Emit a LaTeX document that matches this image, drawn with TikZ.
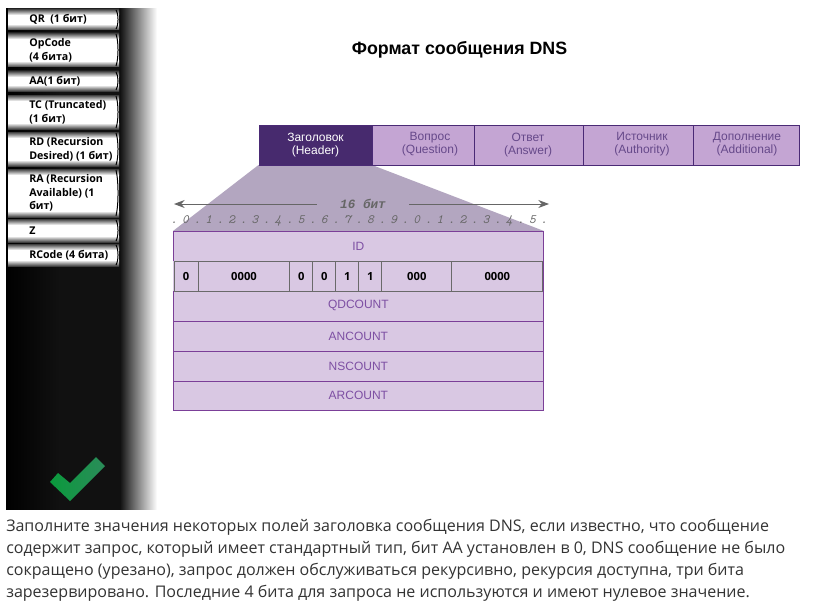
\documentclass[tikz,border=0pt]{standalone}
\usepackage{fontspec}
\setmainfont{Liberation Sans}
\newfontfamily\bodyfont{Open Sans}
\newfontfamily\monofont{Liberation Mono}
\usetikzlibrary{arrows.meta,calc}
\definecolor{tabdark}{HTML}{472A6E}
\definecolor{tablight}{HTML}{C4A5D3}
\definecolor{tabborder}{HTML}{4A2A75}
\definecolor{tabtext}{HTML}{66498A}
\definecolor{rowfill}{HTML}{D9C8E3}
\definecolor{rowborder}{HTML}{7B3F98}
\definecolor{rowtext}{HTML}{7D4FA3}
\definecolor{funnel}{HTML}{B3A6C0}
\definecolor{graytxt}{HTML}{666666}
\definecolor{cellborder}{HTML}{6A6A6A}
\definecolor{sideA}{HTML}{000000}
\definecolor{sideB}{HTML}{111111}
\definecolor{sideC}{HTML}{666666}
\definecolor{checkL}{HTML}{0A9A3C}
\definecolor{checkR}{HTML}{2B8C5A}
\pgfdeclarehorizontalshading{sidebarshade}{100bp}{color(0bp)=(sideA); color(25bp)=(sideA); color(43bp)=(sideB); color(62.75bp)=(sideB); color(67bp)=(sideC); color(75bp)=(white); color(100bp)=(white)}
\tikzset{
  x=0.75pt,y=-0.75pt,
  tabbox/.style={draw=tabborder,line width=0.75pt,fill=tablight,anchor=north west,inner sep=0pt,minimum height=30pt},
  tablabel/.style={text=tabtext,font=\fontsize{9}{9.75}\selectfont,align=center,inner sep=0pt},
  rowbox/.style={draw=rowborder,line width=0.6pt,fill=rowfill,text=rowtext,font=\fontsize{9}{11}\selectfont,anchor=north west,inner sep=0pt,minimum height=22.5pt,minimum width=277.5pt},
  cellbox/.style={draw=cellborder,line width=0.75pt,fill=rowfill,text=black,font=\bodyfont\bfseries\fontsize{8.4}{10}\selectfont,anchor=north west,inner sep=0pt,minimum height=22.5pt},
  btntext/.style={font=\bodyfont\bfseries\fontsize{8}{10.2}\selectfont,align=left,anchor=west,inner sep=0pt,text=black},
  dimline/.style={draw=graytxt,line width=0.75pt,-{Stealth[length=8pt,width=6pt]}},
  digit/.style={font=\ttfamily\itshape\fontsize{9.5}{10}\selectfont,text=graytxt,inner sep=0pt},
}
\newcommand{\btnshape}[3]{%
  \fill[white] (8,#2) rectangle (119,#3);
  \shade[top color=black!75,middle color=black!30,bottom color=white] (8,#2) rectangle (119,#2+6);
  \shade[top color=white,middle color=black!30,bottom color=black!75] (8,#3-6) rectangle (119,#3);
  \draw[black,line width=0.75pt] (116,#2+1) .. controls (118.7,#2*0.75+#3*0.25) and (118.7,#2*0.25+#3*0.75) .. (116,#3-1);
}
\begin{document}
\begin{tikzpicture}
\useasboundingbox (0,0) rectangle (831,610);
\fill[white] (0,0) rectangle (831,610);
% sidebar
\shade[shading=sidebarshade] (6,9) rectangle (157,509);
% buttons
\btnshape{qr}{9}{30}
\btnshape{op}{33}{67}
\btnshape{aa}{71}{91}
\btnshape{tc}{95}{129}
\btnshape{rd}{132}{166}
\btnshape{ra}{169}{217}
\btnshape{z}{219}{242}
\btnshape{rc}{244}{266}
\node[btntext] (bqr) at (29,19.5) {QR\ \ (1 бит)};
\node[btntext] (bop) at (29,50) {OpCode\\(4 бита)};
\node[btntext] (baa) at (29,81) {AA(1 бит)};
\node[btntext] (btc) at (29,112) {TC (Truncated)\\(1 бит)};
\node[btntext] (brd) at (29,149.5) {RD (Recursion\\Desired) (1 бит)};
\node[btntext] (bra) at (29,193) {RA (Recursion\\Available) (1\\бит)};
\node[btntext] (bz) at (29,230.5) {Z};
\node[btntext] (brc) at (29,255) {RCode (4 бита)};
% check mark
\shade[left color=checkL,right color=checkR]
  (50,482) -- (58,473) -- (70,483) -- (96,457) -- (105,466) -- (70,501) -- cycle;
% title
\node[font=\bfseries\fontsize{13.35}{15}\selectfont,inner sep=0pt] (title) at (459.5,50) {Формат сообщения DNS};
% funnel
\fill[funnel] (258.5,165) -- (372,165) -- (544,231) -- (173,231) -- cycle;
% tabs
\node[tabbox,fill=tabdark,minimum width=84.75pt] (t1) at (258.7,124.6) {};
\node[tabbox,minimum width=76.5pt] (t2) at (371.7,124.6) {};
\node[tabbox,minimum width=81.75pt] (t3) at (473.7,124.6) {};
\node[tabbox,minimum width=82.5pt] (t4) at (582.7,124.6) {};
\node[tabbox,minimum width=80pt] (t5) at (692.7,124.6) {};
\node[tablabel,text=white] (l1) at (315.5,144.6) {Заголовок\\(Header)};
\node[tablabel] (l2) at (430,144.6) {Вопрос\\(Question)};
\node[tablabel] (l3) at (528,144.6) {Ответ\\(Answer)};
\node[tablabel] (l4) at (642,144.6) {Источник\\(Authority)};
\node[tablabel] (l5) at (747,144.6) {Дополнение\\(Additional)};
% 16 bit
\node[font=\monofont\itshape\bfseries\fontsize{9.5}{10}\selectfont,text=graytxt,inner sep=0pt,minimum width=69pt,minimum height=10pt] (bits) at (363,203.5) {16 бит};
\coordinate (arrL) at (174,204);
\coordinate (arrR) at (549,204);
\draw[dimline] (bits.west |- arrL) -- (arrL);
\draw[dimline] (bits.east |- arrR) -- (arrR);
% ruler
\foreach \i [count=\n from 0] in {.,0,.,1,.,2,.,3,.,4,.,5,.,6,.,7,.,8,.,9,.,0,.,1,.,2,.,3,.,4,.,5,.}{
  \node[digit,name=d\n,anchor=base] at ({174+\n*11.56},223.5) {\i};
}
% rows
\node[rowbox] (id) at (173,230.5) {ID};
\node[rowbox] (qd) at (173,290.5) {QDCOUNT};
\node[rowbox] (an) at (173,320.5) {ANCOUNT};
\node[rowbox] (ns) at (173,350.5) {NSCOUNT};
\node[rowbox,minimum height=22.3pt] (ar) at (173,380.5) {ARCOUNT};
% bit cells
\fill[rowfill] (173,260.5) rectangle (543,290.5);
\draw[rowborder,line width=0.6pt] (543,260.5) -- (543,290.5);
\node[cellbox,minimum width=18pt] (c1) at (173.5,260.5) {0};
\node[cellbox,minimum width=69pt] (c2) at (197.5,260.5) {0000};
\node[cellbox,minimum width=17.25pt] (c3) at (289.3,260.5) {0};
\node[cellbox,minimum width=17.25pt] (c4) at (312.3,260.5) {0};
\node[cellbox,minimum width=17.25pt] (c5) at (335.3,260.5) {1};
\node[cellbox,minimum width=17.25pt] (c6) at (358.3,260.5) {1};
\node[cellbox,minimum width=52.5pt] (c7) at (381.3,260.5) {000};
\node[cellbox,minimum width=68.25pt] (c8) at (451.3,260.5) {0000};
% body text
\node[font=\bodyfont\fontsize{12.02}{16.5}\selectfont,text=black!80,align=left,anchor=north west,inner sep=0pt] (body) at (6,519) {Заполните значения некоторых полей заголовка сообщения DNS, если известно, что сообщение\\содержит запрос, который имеет стандартный тип, бит AA установлен в 0, DNS сообщение не было\\сокращено (урезано), запрос должен обслуживаться рекурсивно, рекурсия доступна, три бита\\зарезервировано. Последние 4 бита для запроса не используются и имеют нулевое значение.};
\end{tikzpicture}
\end{document}
